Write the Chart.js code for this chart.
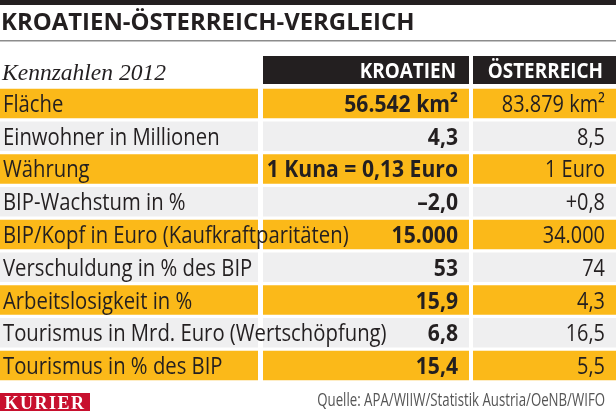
<!DOCTYPE html>
<html>
<head>
<meta charset="utf-8">
<script src="https://cdn.jsdelivr.net/npm/chart.js@4"></script>
<style>
  html, body { margin: 0; padding: 0; background: #fff; }
  #wrap { position: relative; width: 616px; height: 411px; }
</style>
</head>
<body>
<div id="wrap"><canvas id="tabelle" width="616" height="411"></canvas></div>
<script>
// Tabellendaten
const rowLabels = [
  "Fläche",
  "Einwohner in Millionen",
  "Währung",
  "BIP-Wachstum in %",
  "BIP/Kopf in Euro (Kaufkraftparitäten)",
  "Verschuldung in % des BIP",
  "Arbeitslosigkeit in %",
  "Tourismus in Mrd. Euro (Wertschöpfung)",
  "Tourismus in % des BIP"
];
const kroatien = ["56.542 km²", "4,3", "1 Kuna = 0,13 Euro", "–2,0", "15.000", "53", "15,9", "6,8", "15,4"];
const oesterreich = ["83.879 km²", "8,5", "1 Euro", "+0,8", "34.000", "74", "4,3", "16,5", "5,5"];
const columnHeads = ["KROATIEN", "ÖSTERREICH"];
const titleText = "KROATIEN-ÖSTERREICH-VERGLEICH";
const subtitleText = "Kennzahlen 2012";
const sourceText = "Quelle: APA/WIIW/Statistik Austria/OeNB/WIFO";

const YELLOW = '#fbb919';
const GREY = '#efeff0';
const INK = '#231f20';
const SANS = '"Open Sans", "Noto Sans", sans-serif';

// Spaltengrenzen (x-Achse 0..616)
const cols = [[0, 258], [263, 469], [473, 616]];

function rowColors() {
  return rowLabels.map((_, i) => i % 2 === 0 ? YELLOW : GREY);
}

function drawText(ctx, text, x, y, font, color, align, sx, spacing) {
  ctx.save();
  ctx.translate(x, y);
  ctx.scale(sx, 1);
  ctx.font = font;
  ctx.fillStyle = color;
  ctx.textAlign = align;
  ctx.textBaseline = 'alphabetic';
  if (spacing) ctx.letterSpacing = spacing;
  ctx.fillText(text, 0, 0);
  ctx.restore();
}

const tablePlugin = {
  id: 'tablePlugin',
  beforeDraw(chart) {
    const ctx = chart.ctx;
    const xs = chart.scales.x;
    ctx.save();
    ctx.fillStyle = '#fff';
    ctx.fillRect(0, 0, chart.width, chart.height);
    // Kopfbalken und Titel
    ctx.fillStyle = INK;
    ctx.fillRect(0, 0, chart.width, 5);
    drawText(ctx, titleText, 1, 30, 'bold 23px ' + SANS, INK, 'left', 1.04);
    ctx.fillStyle = '#8c8c8c';
    ctx.fillRect(0, 40, chart.width, 1.5);
    // Tabellenkopf
    drawText(ctx, subtitleText, 2, 80, 'italic 24px "Liberation Serif", serif', INK, 'left', 0.98);
    ctx.fillStyle = INK;
    for (let c = 1; c < 3; c++) {
      const x0 = xs.getPixelForValue(cols[c][0]);
      const x1 = xs.getPixelForValue(cols[c][1]);
      ctx.fillRect(x0, 56, x1 - x0, 28);
      drawText(ctx, columnHeads[c - 1], x1 - 13, 78, 'bold 21px ' + SANS, '#fff', 'right', 0.9);
    }
    ctx.restore();
  },
  afterDatasetsDraw(chart) {
    const ctx = chart.ctx;
    const xs = chart.scales.x;
    const ys = chart.scales.y;
    rowLabels.forEach((label, i) => {
      const yc = ys.getPixelForValue(i) + 8.5;
      drawText(ctx, label, xs.getPixelForValue(cols[0][0]) + 3, yc, '24px ' + SANS, INK, 'left', 0.845);
      drawText(ctx, kroatien[i], xs.getPixelForValue(cols[1][1]) - 11, yc, 'bold 24px ' + SANS, INK, 'right', 0.88);
      drawText(ctx, oesterreich[i], xs.getPixelForValue(cols[2][1]) - 11, yc, '24px ' + SANS, INK, 'right', 0.83);
    });
    // Fusszeile
    ctx.save();
    ctx.fillStyle = '#c8102e';
    ctx.fillRect(0, 393, 90, 18);
    ctx.restore();
    drawText(ctx, 'KURIER', 45, 409, 'bold 18px "Liberation Serif", serif', '#fff', 'center', 1.0, '1.5px');
    drawText(ctx, sourceText, 605, 406, '18px ' + SANS, '#555', 'right', 0.735);
  }
};

const bandData = (c) => rowLabels.map(() => [cols[c][0], cols[c][1]]);

new Chart('tabelle', {
  type: 'bar',
  data: {
    labels: rowLabels,
    datasets: [0, 1, 2].map(c => ({
      data: bandData(c),
      backgroundColor: rowColors(),
      borderWidth: 0,
      barPercentage: 0.9,
      categoryPercentage: 1,
      grouped: false
    }))
  },
  options: {
    indexAxis: 'y',
    responsive: false,
    animation: false,
    layout: { padding: { top: 87, bottom: 29, left: 0, right: 0 } },
    scales: {
      x: { type: 'linear', min: 0, max: 616, display: false },
      y: { display: false, offset: true }
    },
    plugins: { legend: { display: false }, tooltip: { enabled: false } }
  },
  plugins: [tablePlugin]
});
</script>
</body>
</html>
